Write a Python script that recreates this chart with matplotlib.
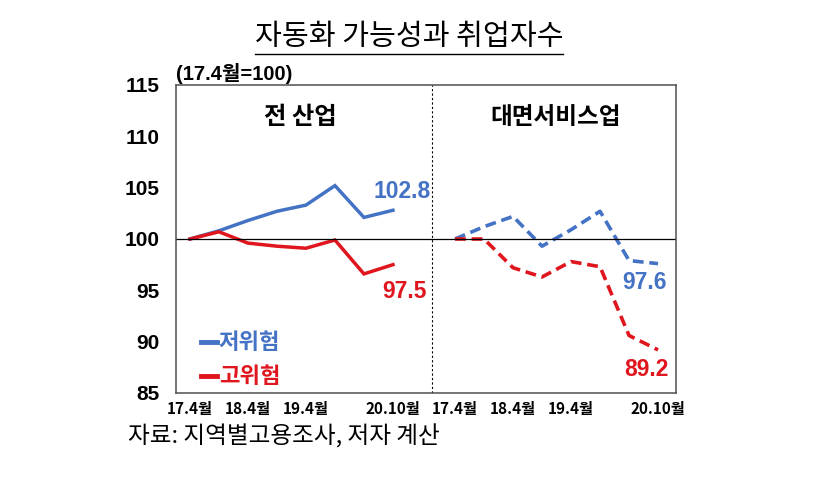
import matplotlib.pyplot as plt
from matplotlib.lines import Line2D

KR = 'Noto Sans CJK KR'
NUM = ['Liberation Sans', 'Noto Sans CJK KR']

# 6-month steps, 17.4 ... 20.10
periods = ['17.4월', '17.10월', '18.4월', '18.10월', '19.4월', '19.10월', '20.4월', '20.10월']
tick_labels = ['17.4월', '18.4월', '19.4월', '20.10월']
tick_idx = [0, 2, 4, 7]

all_low = [100.0, 100.8, 101.8, 102.7, 103.3, 105.2, 102.1, 102.8]
all_high = [100.0, 100.7, 99.6, 99.3, 99.1, 99.9, 96.6, 97.5]
svc_low = [100.0, 101.2, 102.2, 99.3, 100.9, 102.7, 97.9, 97.6]
svc_high = [100.0, 100.0, 97.2, 96.3, 97.8, 97.3, 90.6, 89.2]

blue = '#4472C4'
red = '#E0161E'

fig = plt.figure(figsize=(8.31, 4.91), dpi=100)
ax = fig.add_axes([0.2118, 0.1996, 0.6017, 0.6273])

x_left = list(range(len(periods)))
offset = 9.14
x_right = [i + offset for i in x_left]

ax.plot(x_left, all_low, color=blue, lw=2.5, label='저위험', solid_joinstyle='miter')
ax.plot(x_left, all_high, color=red, lw=2.5, label='고위험', solid_joinstyle='miter')
ax.plot(x_right, svc_low, color=blue, lw=2.6, dashes=(3.0, 1.6))
ax.plot(x_right, svc_high, color=red, lw=2.6, dashes=(3.0, 1.6))

ax.axhline(100, color='black', lw=0.9)
ax.axvline(8.34, color='black', lw=0.8, dashes=(2, 2))

ax.set_xlim(-0.48, 16.76)
ax.set_ylim(85, 115)
ax.set_yticks([85, 90, 95, 100, 105, 110, 115])
ax.tick_params(axis='both', length=0)
ax.tick_params(axis='y', pad=12)
ax.tick_params(axis='x', pad=6)
for lab in ax.get_yticklabels():
    lab.set_fontfamily(NUM)
    lab.set_fontweight('bold')
    lab.set_fontsize(15)

ax.set_xticks([tick_idx[k] for k in range(4)] + [tick_idx[k] + offset for k in range(4)])
ax.set_xticklabels(tick_labels + tick_labels, fontfamily=KR, fontweight='bold', fontsize=11)

for s in ax.spines.values():
    s.set_color('#505050')
    s.set_linewidth(1.1)

# panel titles
ax.text(3.8, 111.9, '전 산업', ha='center', va='center', fontfamily=KR, fontweight='bold', fontsize=17.5)
ax.text(12.6, 111.9, '대면서비스업', ha='center', va='center', fontfamily=KR, fontweight='bold', fontsize=17)

# end labels
ax.text(8.3, 104.6, f'{all_low[-1]:.1f}', ha='right', va='center', color=blue,
        fontfamily=NUM, fontweight='bold', fontsize=16.5)
ax.text(8.15, 94.9, f'{all_high[-1]:.1f}', ha='right', va='center', color=red,
        fontfamily=NUM, fontweight='bold', fontsize=16.5)
ax.text(16.45, 95.8, f'{svc_low[-1]:.1f}', ha='right', va='center', color=blue,
        fontfamily=NUM, fontweight='bold', fontsize=16.5)
ax.text(16.5, 87.3, f'{svc_high[-1]:.1f}', ha='right', va='center', color=red,
        fontfamily=NUM, fontweight='bold', fontsize=16.5)

leg = ax.legend(loc='lower left', bbox_to_anchor=(0.01, -0.05), frameon=False,
                handlelength=0.7, handletextpad=0.1, labelcolor='linecolor',
                prop={'family': KR, 'weight': 'bold', 'size': 16}, labelspacing=0.5)
for h in leg.get_lines():
    h.set_linewidth(3.5)

fig.text(176 / 831, 1 - 73 / 491, '(17.4월=100)', ha='left', va='center',
         fontfamily=NUM, fontweight='bold', fontsize=14.5)

title = fig.text(409 / 831, 1 - 37 / 491, '자동화 가능성과 취업자수', ha='center', va='center',
                 fontfamily=KR, fontsize=21)
fig.text(128 / 831, 1 - 437 / 491, '자료: 지역별고용조사, 저자 계산', ha='left', va='center',
         fontfamily=KR, fontsize=17)

# underline title
fig.canvas.draw()
bb = title.get_window_extent().transformed(fig.transFigure.inverted())
fig.add_artist(Line2D([bb.x0, bb.x1], [bb.y0 - 0.004, bb.y0 - 0.004], color='black', lw=1.0,
                      transform=fig.transFigure))

fig.savefig('out.png', dpi=100, facecolor='white')
